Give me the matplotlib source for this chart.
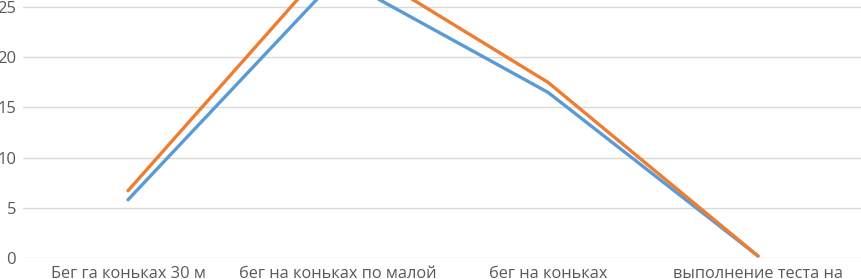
import matplotlib
matplotlib.use('Agg')
import matplotlib.pyplot as plt

# Categories (only the first line of each label is visible in the reference)
categories = ['Бег га коньках 30 м', 'бег на коньках по малой', 'бег на коньках', 'выполнение теста на']
series_blue = [5.8, 28.0, 16.5, 0.2]
series_orange = [6.7, 30.3, 17.5, 0.2]
yticks = [0, 5, 10, 15, 20, 25]

plt.rcParams['font.family'] = ['Open Sans', 'DejaVu Sans']

fig = plt.figure(figsize=(8.61, 2.79), dpi=100)
ax = fig.add_axes([23 / 861, 21 / 279, 840 / 861, 258 / 279])

x = list(range(len(categories)))
ax.plot(x, series_blue, color='#5B9BD5', linewidth=2.4, solid_capstyle='round', zorder=3)
ax.plot(x, series_orange, color='#ED7D31', linewidth=2.4, solid_capstyle='round', zorder=4)

ax.set_xlim(-0.5, len(categories) - 0.5)
ax.set_ylim(0, 25.7)
ax.set_yticks(yticks)
ax.set_xticks(x)
ax.set_xticklabels(categories)

for s in ax.spines.values():
    s.set_visible(False)
ax.grid(axis='y', color='#D9D9D9', linewidth=1.0)
ax.set_axisbelow(True)
ax.tick_params(axis='both', length=0, colors='#595959')
ax.tick_params(axis='y', pad=5, labelsize=12)
ax.tick_params(axis='x', pad=6, labelsize=11.8)

fig.savefig('out.png', dpi=100)
